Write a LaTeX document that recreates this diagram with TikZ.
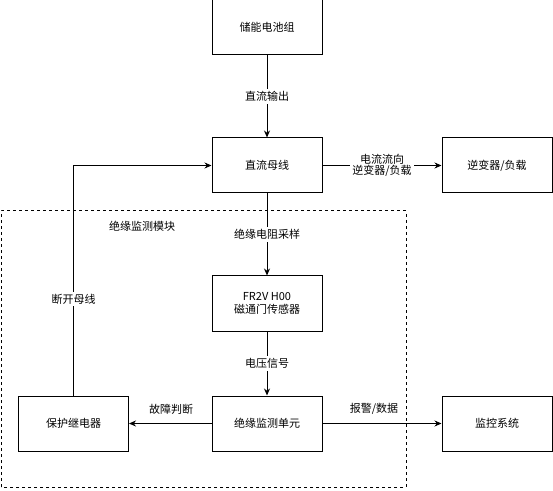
\documentclass[tikz,border=0pt]{standalone}
\usepackage{fontspec}
\setmainfont{Noto Sans CJK SC}
\usepackage{tikz}
\usetikzlibrary{arrows.meta}

\begin{document}
\begin{tikzpicture}[x=1pt,y=1pt,line width=1pt,
    font=\fontsize{11}{13}\selectfont,
    box/.style={draw,rectangle,minimum width=110pt,minimum height=55pt,inner sep=0pt,align=center},
    lab/.style={fill=white,inner sep=2pt,align=center},
    arr/.style={-{Stealth[length=7pt,width=6pt]}}]
    \useasboundingbox (0,0) rectangle (553,490);
    \draw[dash pattern=on 3pt off 3pt] (1,3) rectangle (406,279);
    \node (Mod) at (142,264) {绝缘监测模块};
    \node (Bat) at (267,462.5) [box] {储能电池组};
    \node (Bus) at (267,324.5) [box] {直流母线};
    \node (Inv) at (497,324.5) [box] {逆变器/负载};
    \node (Sen) at (267,186.5) [box] {FR2V H00\\磁通门传感器};
    \node (Unit) at (267,66.5) [box] {绝缘监测单元};
    \node (Rel) at (73.5,66.5) [box] {保护继电器};
    \node (Mon) at (497,66.5) [box] {监控系统};
   \draw[arr]
    (Bat) -- node [lab] {直流输出} (Bus);
   \draw[arr]
    (Bus) -- node [lab] {电流流向\\[-2pt]逆变器/负载} (Inv);
   \draw[arr]
    (Bus) -- node [lab] {绝缘电阻采样} (Sen);
   \draw[arr]
    (Sen) -- node [lab] {电压信号} (Unit);
   \draw[arr]
    (Unit) -- (Rel);
   \draw[arr]
    (Unit) -- (Mon);
   \draw[arr]
    (Rel) |- (Bus);
    \draw
    (73.5,191) node [lab] {断开母线}
    (171,81) node {故障判断}
    (374,81) node {报警/数据};
  \end{tikzpicture}
\end{document}
